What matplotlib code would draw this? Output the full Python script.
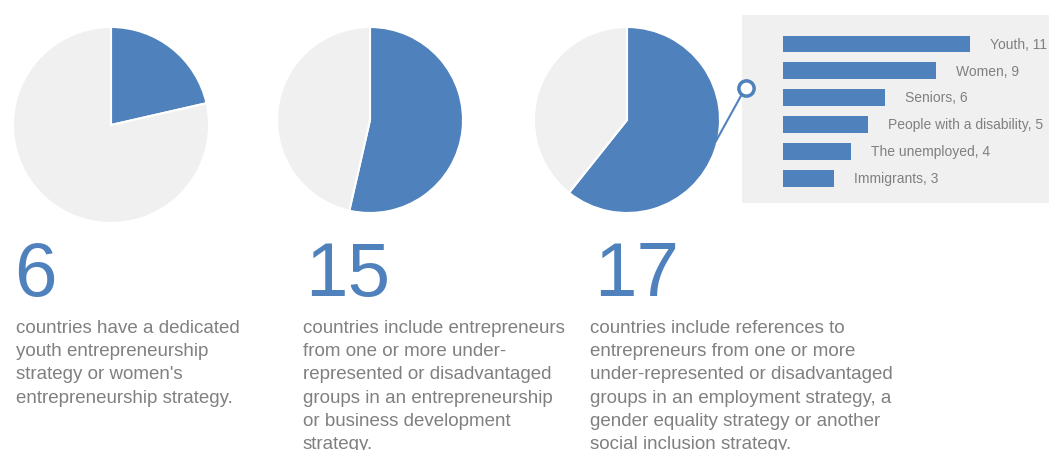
import matplotlib.pyplot as plt

plt.rcParams['font.family'] = ['Liberation Sans', 'DejaVu Sans']

BLUE = '#4f81bd'
LIGHT = '#f0f0f0'
GREY = '#808080'

# share of countries (out of 28) for each of the three pies
total = 28
counts = [6, 15, 17]
captions = [
    "countries have a dedicated\nyouth entrepreneurship\nstrategy or women's\nentrepreneurship strategy.",
    "countries include entrepreneurs\nfrom one or more under-\nrepresented or disadvantaged\ngroups in an entrepreneurship\nor business development\nstrategy.",
    "countries include references to\nentrepreneurs from one or more\nunder-represented or disadvantaged\ngroups in an employment strategy, a\ngender equality strategy or another\nsocial inclusion strategy.",
]

# target groups named in the strategies
groups = ['Youth', 'Women', 'Seniors', 'People with a disability',
          'The unemployed', 'Immigrants']
group_counts = [11, 9, 6, 5, 4, 3]

W, H = 1049, 450
fig = plt.figure(figsize=(W / 100, H / 100), dpi=100)

# breakdown bars
bx = fig.add_axes([742 / W, (H - 203) / H, (W - 742) / W, 188 / H])
bx.set_facecolor(LIGHT)
ypos = list(range(len(groups)))
bx.barh(ypos, group_counts, height=0.63, color=BLUE)
for y, g, v in zip(ypos, groups, group_counts):
    bx.text(v + 1.2, y + 0.03, f'{g}, {v}', fontsize=10, color=GREY, va='center', ha='left')
bx.set_xlim(-2.41, 15.65)
bx.set_ylim(5.93, -1.08)
bx.set_xticks([])
bx.set_yticks([])
for s in bx.spines.values():
    s.set_visible(False)

# main canvas in pixel units, drawn above the bar panel
ax = fig.add_axes([0, 0, 1, 1])
ax.set_zorder(2)
ax.patch.set_visible(False)

centers = [(111, H - 125), (370, H - 120), (627, H - 120)]
radii = [98, 93, 93]
num_x = [14, 305, 594]
text_x = [16, 303, 590]

for n, cap, c, r, nx, tx in zip(counts, captions, centers, radii, num_x, text_x):
    ax.pie([n, total - n], colors=[BLUE, LIGHT], startangle=90, counterclock=False,
           center=c, radius=r, wedgeprops=dict(edgecolor='white', linewidth=1.5),
           frame=True)
    ax.text(nx, H - 296, str(n), fontsize=55, color=BLUE, va='baseline', ha='left')
    ax.text(tx, H - 320, cap, fontsize=13.5, color=GREY, va='top', ha='left',
            linespacing=1.48)

ax.set_xlim(0, W)
ax.set_ylim(0, H)
ax.set_aspect('equal')
ax.axis('off')

# connector from the third pie to the breakdown panel
ax.plot([716, 742], [H - 141, H - 94], color=BLUE, lw=1.5, zorder=3)
ax.plot([746], [H - 88], marker='o', ms=11, mfc='white', mec=BLUE, mew=2.5, zorder=4)

fig.savefig('out.png', dpi=100, facecolor='white')
